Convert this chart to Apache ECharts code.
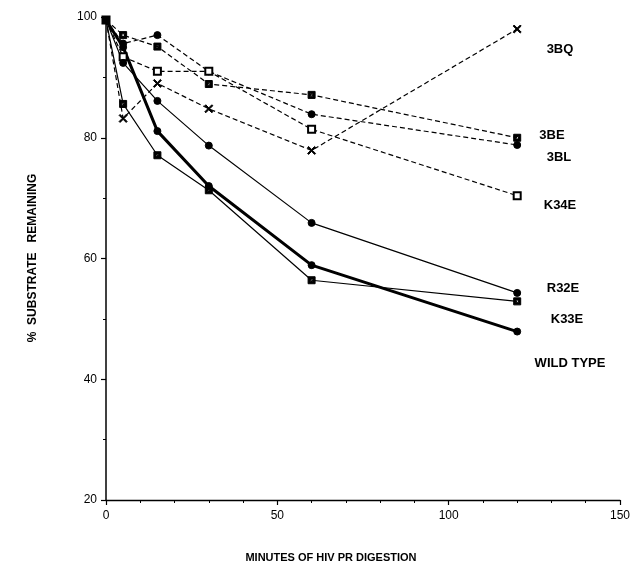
<!DOCTYPE html>
<html>
<head>
<meta charset="utf-8">
<script src="https://cdn.jsdelivr.net/npm/echarts@6/dist/echarts.min.js"></script>
<style>html,body{margin:0;padding:0;background:#fff;}#c{width:633px;height:567px;}</style>
</head>
<body>
<div id="c"></div>
<script>
const minutes = [0, 5, 15, 30, 60, 120];
const s3BQ  = [99.5, 83.2, 89.0, 84.8, 77.9, 98.0];
const s3BE  = [99.5, 97.0, 95.1, 88.9, 87.1, 80.0];
const s3BL  = [99.5, 95.6, 97.0, 91.0, 83.9, 78.8];
const sK34E = [99.5, 93.4, 91.0, 91.0, 81.4, 70.4];
const sR32E = [99.5, 92.4, 86.1, 78.7, 65.9, 54.3];
const sK33E = [99.5, 85.6, 77.1, 71.3, 56.4, 52.9];
const sWT   = [99.5, 95.0, 81.1, 72.0, 58.9, 47.9];
const labelNames = ['3BQ', '3BE', '3BL', 'K34E', 'R32E', 'K33E', 'WILD TYPE'];

const pairs = arr => minutes.map((m, i) => [m, arr[i]]);
const cross = 'path://M0,1.2L1.2,0L5,3.8L8.8,0L10,1.2L6.2,5L10,8.8L8.8,10L5,6.2L1.2,10L0,8.8L3.8,5Z';
const boxThick = 'path://M0,0L10,0L10,10L0,10ZM3.2,3.2L3.2,6.8L6.8,6.8L6.8,3.2Z';

function ser(name, arr, opt) {
  return Object.assign({
    name: name, type: 'line', data: pairs(arr),
    lineStyle: { color: '#000', width: 1.2, type: 'solid' },
    itemStyle: { color: '#000', borderColor: '#000' },
    symbolSize: 7, z: 3
  }, opt);
}

const chart = echarts.init(document.getElementById('c'), null, { renderer: 'canvas' });
const F = '"Liberation Sans", Arial, sans-serif';
const labelPos = [[560, 49], [552, 135], [559, 157], [560, 205], [563, 288], [567, 319], [570, 363]];

chart.setOption({
  animation: false,
  backgroundColor: '#fff',
  grid: { left: 106, right: 11, top: 17, bottom: 67, containLabel: false },
  xAxis: {
    type: 'value', min: 0, max: 150, interval: 50,
    axisLine: { show: true, lineStyle: { color: '#000', width: 1.3 } },
    axisTick: { show: true, inside: false, length: 5, lineStyle: { color: '#000', width: 1.2 } },
    minorTick: { show: true, splitNumber: 5, length: 3, lineStyle: { color: '#000', width: 1 } },
    axisLabel: { color: '#000', fontFamily: F, fontSize: 12, margin: 10 },
    splitLine: { show: false }
  },
  yAxis: {
    type: 'value', min: 20, max: 100, interval: 20,
    axisLine: { show: true, lineStyle: { color: '#000', width: 1.5 } },
    axisTick: { show: true, inside: false, length: 5, lineStyle: { color: '#000', width: 1.2 } },
    minorTick: { show: true, splitNumber: 2, length: 3, lineStyle: { color: '#000', width: 1 } },
    axisLabel: { color: '#000', fontFamily: F, fontSize: 12, margin: 9 },
    splitLine: { show: false }
  },
  graphic: labelNames.map((t, i) => ({
    type: 'text', x: labelPos[i][0], y: labelPos[i][1],
    style: { text: t, fill: '#000', font: 'bold 13px ' + F, textAlign: 'center', textVerticalAlign: 'middle' }
  })).concat([
    { type: 'text', x: 331, y: 558,
      style: { text: 'MINUTES OF HIV PR DIGESTION', fill: '#000', font: 'bold 11px ' + F, textAlign: 'center', textVerticalAlign: 'middle' } },
    { type: 'text', x: 33, y: 258, rotation: Math.PI / 2,
      style: { text: '%  SUBSTRATE   REMAINING', fill: '#000', font: 'bold 12px ' + F, textAlign: 'center', textVerticalAlign: 'middle' } }
  ]),
  series: [
    ser('3BQ', s3BQ, { symbol: cross, symbolSize: 8, lineStyle: { color: '#000', width: 1.2, type: [5, 3] } }),
    ser('3BE', s3BE, { symbol: boxThick, symbolSize: 7, lineStyle: { color: '#000', width: 1.2, type: [5, 3] } }),
    ser('3BL', s3BL, { symbol: 'circle', symbolSize: 7, lineStyle: { color: '#000', width: 1.2, type: [5, 3] } }),
    ser('K34E', sK34E, { symbol: 'emptyRect', symbolSize: 7, lineStyle: { color: '#000', width: 1.2, type: [5, 3] } }),
    ser('R32E', sR32E, { symbol: 'circle', symbolSize: 7 }),
    ser('K33E', sK33E, { symbol: boxThick, symbolSize: 7 }),
    ser('WILD TYPE', sWT, { symbol: 'circle', symbolSize: 7, lineStyle: { color: '#000', width: 3, type: 'solid' } })
  ]
});
</script>
</body>
</html>
